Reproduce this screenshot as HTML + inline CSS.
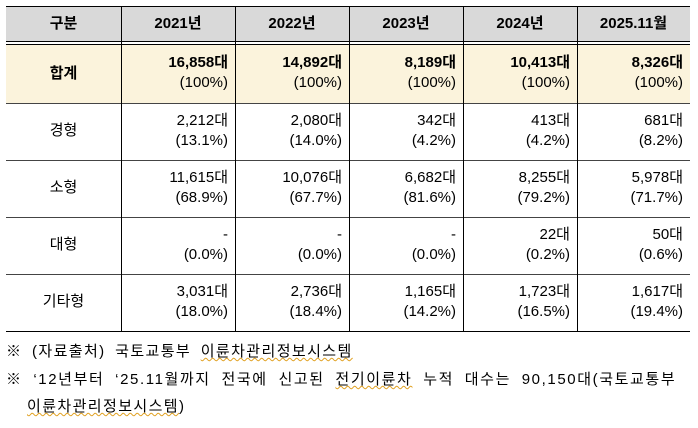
<!DOCTYPE html>
<html><head><meta charset="utf-8"><style>
body{margin:0;width:698px;height:428px;background:#fff;font-family:"Liberation Sans","Noto Sans CJK KR",sans-serif;color:#000;position:relative;overflow:hidden}
.c{position:absolute;box-sizing:border-box;font-size:15px;line-height:20px}
.r{text-align:right;padding-right:7px}
.h{display:flex;align-items:center;justify-content:center;font-weight:bold;font-size:15px}
.l{position:absolute;background:#000}
.n{position:absolute;left:6px;font-size:15px;line-height:20px;white-space:nowrap;letter-spacing:1.4px;word-spacing:4px}
u{text-decoration:underline wavy #e0a020;text-decoration-thickness:1px}
</style></head><body>
<div class="c" style="left:6px;top:7px;width:684px;height:34px;background:#d9d9d9"></div>
<div class="c" style="left:6px;top:45px;width:684px;height:58px;background:#fbf3dc"></div>
<div class="l" style="left:6px;top:6px;width:684px;height:1px"></div>
<div class="l" style="left:6px;top:41px;width:684px;height:1px"></div>
<div class="l" style="left:6px;top:44px;width:684px;height:1px"></div>
<div class="l" style="left:6px;top:103px;width:684px;height:1px;background:#444"></div>
<div class="l" style="left:6px;top:160px;width:684px;height:1px;background:#444"></div>
<div class="l" style="left:6px;top:217px;width:684px;height:1px;background:#444"></div>
<div class="l" style="left:6px;top:274px;width:684px;height:1px;background:#444"></div>
<div class="l" style="left:6px;top:331px;width:684px;height:1px"></div>
<div class="l" style="left:121px;top:7px;width:1px;height:324px"></div>
<div class="l" style="left:235px;top:7px;width:1px;height:324px"></div>
<div class="l" style="left:349px;top:7px;width:1px;height:324px"></div>
<div class="l" style="left:463px;top:7px;width:1px;height:324px"></div>
<div class="l" style="left:577px;top:7px;width:1px;height:324px"></div>

<div class="c h" style="left:6px;top:7px;width:115px;height:34px">구분</div>
<div class="c h" style="left:121px;top:7px;width:114px;height:34px">2021년</div>
<div class="c h" style="left:235px;top:7px;width:114px;height:34px">2022년</div>
<div class="c h" style="left:349px;top:7px;width:114px;height:34px">2023년</div>
<div class="c h" style="left:463px;top:7px;width:114px;height:34px">2024년</div>
<div class="c h" style="left:577px;top:7px;width:113px;height:34px">2025.11월</div>

<div class="c h" style="left:6px;top:45px;width:115px;height:58px">합계</div>
<div class="c r" style="left:121px;top:53px;width:114px"><b>16,858대</b><br>(100%)</div>
<div class="c r" style="left:235px;top:53px;width:114px"><b>14,892대</b><br>(100%)</div>
<div class="c r" style="left:349px;top:53px;width:114px"><b>8,189대</b><br>(100%)</div>
<div class="c r" style="left:463px;top:53px;width:114px"><b>10,413대</b><br>(100%)</div>
<div class="c r" style="left:577px;top:53px;width:113px"><b>8,326대</b><br>(100%)</div>

<div class="c" style="left:6px;top:121px;width:115px;text-align:center">경형</div>
<div class="c r" style="left:121px;top:111px;width:114px">2,212대<br>(13.1%)</div>
<div class="c r" style="left:235px;top:111px;width:114px">2,080대<br>(14.0%)</div>
<div class="c r" style="left:349px;top:111px;width:114px">342대<br>(4.2%)</div>
<div class="c r" style="left:463px;top:111px;width:114px">413대<br>(4.2%)</div>
<div class="c r" style="left:577px;top:111px;width:113px">681대<br>(8.2%)</div>

<div class="c" style="left:6px;top:178px;width:115px;text-align:center">소형</div>
<div class="c r" style="left:121px;top:168px;width:114px">11,615대<br>(68.9%)</div>
<div class="c r" style="left:235px;top:168px;width:114px">10,076대<br>(67.7%)</div>
<div class="c r" style="left:349px;top:168px;width:114px">6,682대<br>(81.6%)</div>
<div class="c r" style="left:463px;top:168px;width:114px">8,255대<br>(79.2%)</div>
<div class="c r" style="left:577px;top:168px;width:113px">5,978대<br>(71.7%)</div>

<div class="c" style="left:6px;top:235px;width:115px;text-align:center">대형</div>
<div class="c r" style="left:121px;top:225px;width:114px">-<br>(0.0%)</div>
<div class="c r" style="left:235px;top:225px;width:114px">-<br>(0.0%)</div>
<div class="c r" style="left:349px;top:225px;width:114px">-<br>(0.0%)</div>
<div class="c r" style="left:463px;top:225px;width:114px">22대<br>(0.2%)</div>
<div class="c r" style="left:577px;top:225px;width:113px">50대<br>(0.6%)</div>

<div class="c" style="left:6px;top:292px;width:115px;text-align:center">기타형</div>
<div class="c r" style="left:121px;top:282px;width:114px">3,031대<br>(18.0%)</div>
<div class="c r" style="left:235px;top:282px;width:114px">2,736대<br>(18.4%)</div>
<div class="c r" style="left:349px;top:282px;width:114px">1,165대<br>(14.2%)</div>
<div class="c r" style="left:463px;top:282px;width:114px">1,723대<br>(16.5%)</div>
<div class="c r" style="left:577px;top:282px;width:113px">1,617대<br>(19.4%)</div>

<div class="n" style="top:342px">※ (자료출처) 국토교통부 <u>이륜차관리정보시스템</u></div>
<div class="n" style="top:370px;letter-spacing:1.6px;word-spacing:5px">※ ‘12년부터 ‘25.11월까지 전국에 신고된 <u>전기이륜차</u> 누적 대수는 90,150대(국토교통부</div>
<div class="n" style="top:397px;left:27px"><u>이륜차관리정보시스템</u>)</div>
</body></html>
